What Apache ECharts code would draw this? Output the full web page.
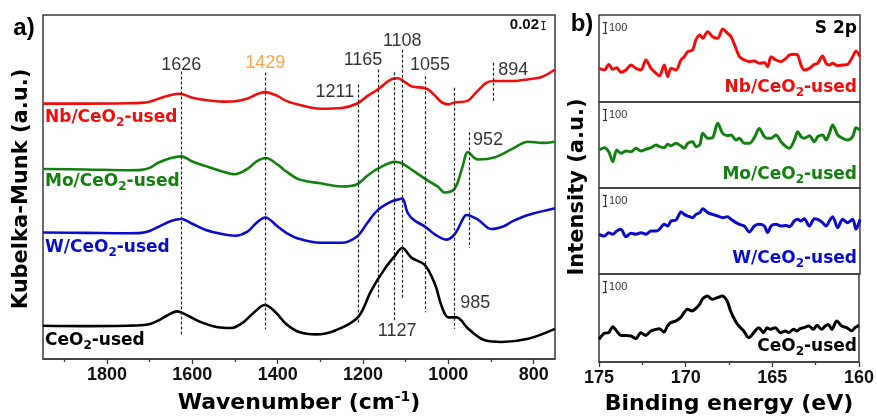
<!DOCTYPE html>
<html>
<head>
<meta charset="utf-8">
<script src="https://cdn.jsdelivr.net/npm/echarts@6/dist/echarts.min.js"></script>
<style>html,body{margin:0;padding:0;background:#fff}#c{width:877px;height:419px}</style>
</head>
<body>
<div id="c"></div>
<script>
// ---------- Panel a: DRIFTS spectra (wavenumber, Kubelka-Munk, offset as displayed) ----------
const nbDrifts = [[1950,0.644],[1850,0.644],[1750,0.645],[1720,0.646],[1700,0.649],[1680,0.656],[1650,0.666],[1630,0.669],[1600,0.659],[1570,0.653],[1530,0.649],[1500,0.65],[1470,0.657],[1450,0.667],[1430,0.673],[1400,0.663],[1380,0.651],[1350,0.641],[1300,0.631],[1250,0.633],[1212,0.645],[1190,0.663],[1165,0.68],[1130,0.707],[1118,0.708],[1108,0.703],[1095,0.693],[1085,0.687],[1055,0.683],[1045,0.678],[1030,0.663],[1015,0.647],[1000,0.642],[985,0.647],[955,0.651],[935,0.672],[910,0.697],[890,0.701],[850,0.701],[815,0.705],[780,0.712],[750,0.73]];
const moDrifts = [[1950,0.479],[1850,0.478],[1750,0.476],[1720,0.477],[1700,0.482],[1680,0.495],[1650,0.507],[1626,0.511],[1600,0.498],[1570,0.487],[1530,0.473],[1500,0.466],[1470,0.48],[1450,0.498],[1428,0.507],[1400,0.49],[1380,0.473],[1350,0.453],[1300,0.443],[1250,0.435],[1215,0.44],[1190,0.462],[1165,0.48],[1125,0.497],[1108,0.493],[1080,0.473],[1050,0.451],[1025,0.435],[1008,0.42],[985,0.43],[968,0.48],[954,0.522],[940,0.508],[930,0.503],[890,0.509],[850,0.53],[813,0.548],[780,0.545],[750,0.548]];
const wDrifts = [[1950,0.319],[1850,0.318],[1750,0.317],[1720,0.318],[1700,0.323],[1680,0.333],[1650,0.348],[1626,0.353],[1600,0.341],[1570,0.326],[1530,0.315],[1500,0.311],[1470,0.322],[1450,0.343],[1429,0.357],[1400,0.334],[1380,0.318],[1350,0.303],[1300,0.293],[1250,0.293],[1214,0.309],[1190,0.343],[1165,0.376],[1134,0.397],[1115,0.403],[1108,0.405],[1095,0.368],[1080,0.35],[1055,0.334],[1030,0.313],[1005,0.301],[985,0.315],[965,0.355],[958,0.363],[930,0.351],[900,0.328],[870,0.335],[850,0.347],[813,0.363],[750,0.38]];
const ceDrifts = [[1950,0.084],[1850,0.083],[1750,0.084],[1720,0.085],[1700,0.088],[1680,0.097],[1660,0.109],[1636,0.12],[1610,0.109],[1580,0.093],[1540,0.08],[1510,0.078],[1480,0.093],[1455,0.118],[1430,0.136],[1405,0.118],[1380,0.088],[1350,0.068],[1310,0.062],[1265,0.072],[1212,0.105],[1181,0.172],[1150,0.226],[1126,0.259],[1108,0.28],[1086,0.255],[1055,0.237],[1031,0.188],[1016,0.134],[1000,0.105],[981,0.105],[953,0.076],[914,0.047],[875,0.043],[813,0.051],[750,0.076]];

const peakWavenumbers = [1626, 1429, 1211, 1165, 1127, 1108, 1055, 985, 952, 894];
const peakLabels = ['1626', '1429', '1211', '1165', '1127', '1108', '1055', '985', '952', '894'];
// vertical extent of each dashed guide (K-M units)
const peakLineTop = [0.725, 0.7225, 0.6925, 0.73, 0.723, 0.78, 0.713, 0.684, 0.572, 0.747];
const peakLineBottom = [0.06, 0.075, 0.088, 0.151, 0.097, 0.151, 0.118, 0.076, 0.28, 0.647];
// where each peak number is written (wavenumber, K-M)
const peakLabelAt = [[1626,0.7425],[1429,0.7475],[1266,0.672],[1200,0.753],[1120,0.07],[1108,0.803],[1043,0.741],[937,0.14],[907,0.5525],[848,0.728]];
const kmScaleBar = 0.02;

const aTicksMajor = [800, 1000, 1200, 1400, 1600, 1800];
const aTicksMinor = [900, 1100, 1300, 1500, 1700, 1900];

// ---------- Panel b: XPS S 2p ----------
const bEnergy = [175.0,174.69,174.44,174.21,173.98,173.74,173.45,173.16,172.87,172.59,172.30,172.01,171.72,171.53,171.25,171.05,170.86,170.57,170.29,170.10,169.90,169.62,169.43,169.20,169.04,168.75,168.47,168.18,167.89,167.61,167.41,167.13,166.93,166.65,166.36,166.07,165.79,165.50,165.31,165.11,164.83,164.54,164.25,164.06,163.77,163.58,163.39,163.20,162.91,162.62,162.43,162.15,161.95,161.76,161.57,161.28,161.00,160.71,160.42,160.23,160.0];
const nbS2p = [306,291,342,297,312,270,291,336,306,291,382,306,261,236,336,230,306,291,382,412,458,473,564,609,579,639,594,579,664,624,594,488,412,382,367,373,352,358,321,412,382,367,397,427,433,427,336,291,306,342,352,418,352,336,352,330,336,342,412,464,412];
const moS2p = [345,367,330,239,345,315,336,330,361,336,352,367,391,376,367,397,385,406,382,361,406,421,376,397,497,452,458,588,497,476,482,436,452,406,406,458,542,467,452,452,482,421,376,361,436,512,467,452,476,421,467,482,436,497,573,482,452,436,467,548,527];
const wS2p = [361,345,376,361,391,406,339,370,361,376,361,391,391,406,452,436,482,491,564,542,527,512,542,558,594,558,542,527,512,521,497,467,452,436,382,436,452,436,376,436,452,436,442,430,482,497,482,503,436,503,497,467,436,482,521,421,497,467,497,406,497];
const ceS2p = [206,261,267,321,282,242,242,236,212,267,242,282,297,303,273,327,358,373,403,448,479,464,485,524,570,600,570,585,600,555,464,373,327,282,221,267,312,267,312,297,312,267,282,267,297,282,303,312,327,297,333,297,327,342,297,373,327,312,282,312,333];
const countsScaleBar = 100;
const bTicks = [175, 170, 165, 160];

const sampleNames = ['Nb/CeO2-used', 'Mo/CeO2-used', 'W/CeO2-used', 'CeO2-used'];
const colors = ['#f20d0d', '#12800f', '#0b0bcc', '#000000'];

// ---------- layout ----------
const A = {left: 43, top: 15, width: 512, height: 347};
const bTops = [15, 102, 188, 274];
const bHeights = [87, 86, 86, 88];
const bLeft = 599, bWidth = 261;
const pxPerCount = 11 / 100; // 100 counts = 11 px

const frame = '#3a3a3a';
const tickLabel = {fontFamily: 'Liberation Sans', fontWeight: 'bold', fontSize: 18, color: '#111', margin: 7, formatter: v => String(v)};

const grids = [Object.assign({show: true, borderColor: frame, borderWidth: 1.5, backgroundColor: 'transparent'}, A)];
bTops.forEach((t, i) => grids.push({left: bLeft, top: t, width: bWidth, height: bHeights[i], show: true, borderColor: frame, borderWidth: 1.5}));

const xAxes = [
  {gridIndex: 0, type: 'value', min: 750, max: 1950, inverse: true, position: 'bottom',
   axisLine: {show: true, lineStyle: {color: frame, width: 1.5}},
   axisTick: {show: true, customValues: aTicksMajor, length: 5, lineStyle: {color: frame, width: 1.3}},
   axisLabel: Object.assign({customValues: aTicksMajor}, tickLabel),
   splitLine: {show: false},
   name: '{m|Wavenumber (cm}{s|-1}{m|)}', nameLocation: 'middle', nameGap: 31,
   nameTextStyle: {rich: {
     m: {fontFamily: 'DejaVu Sans', fontWeight: 'bold', fontSize: 22, color: '#000'},
     s: {fontFamily: 'DejaVu Sans', fontWeight: 'bold', fontSize: 14, color: '#000', padding: [0, 0, 12, 0]}}}},
  {gridIndex: 0, type: 'value', min: 750, max: 1950, inverse: true, position: 'bottom',
   axisLine: {show: false},
   axisTick: {show: true, customValues: aTicksMinor, length: 3, lineStyle: {color: frame, width: 1.3}},
   axisLabel: {show: false}, splitLine: {show: false}}
];
const yAxes = [{gridIndex: 0, type: 'value', min: 0, max: A.height / 400, show: false}];
bTops.forEach((t, i) => {
  const last = i === bTops.length - 1;
  xAxes.push({gridIndex: i + 1, type: 'value', min: 160, max: 175, interval: 5, inverse: true,
    axisLine: {show: last, lineStyle: {color: frame, width: 1.5}},
    axisTick: {show: last, length: 5, lineStyle: {color: frame, width: 1.3}},
    minorTick: {show: last, splitNumber: 2, length: 3, lineStyle: {color: frame, width: 1.3}},
    axisLabel: Object.assign({show: last, customValues: bTicks}, tickLabel),
    splitLine: {show: false},
    name: last ? 'Binding energy (eV)' : '', nameLocation: 'middle', nameGap: 31,
    nameTextStyle: {fontFamily: 'DejaVu Sans', fontWeight: 'bold', fontSize: 22, color: '#000'}});
  yAxes.push({gridIndex: i + 1, type: 'value', min: 0, max: bHeights[i] / pxPerCount, show: false});
});

const series = [];
[nbDrifts, moDrifts, wDrifts, ceDrifts].forEach((d, i) => series.push({
  type: 'line', xAxisIndex: 0, yAxisIndex: 0, data: d, showSymbol: false, smooth: 0.35,
  lineStyle: {color: colors[i], width: 2.6}, silent: true, z: 3}));

// dashed peak guides + K-M scale bar
const aBarW = 777, aBarTop = 0.8525, serif = 5;
series.push({
  type: 'line', xAxisIndex: 0, yAxisIndex: 0, data: [], silent: true,
  markLine: {symbol: 'none', silent: true, label: {show: false}, animation: false,
    lineStyle: {type: [3, 2], color: '#222', width: 1.2},
    data: peakWavenumbers.map((w, i) => [{coord: [w, peakLineTop[i]]}, {coord: [w, peakLineBottom[i]]}]).concat([
      [{coord: [aBarW, aBarTop], lineStyle: {type: 'solid', width: 1.2, color: '#222'}}, {coord: [aBarW, aBarTop - kmScaleBar]}],
      [{coord: [aBarW - serif, aBarTop], lineStyle: {type: 'solid', width: 1.2, color: '#222'}}, {coord: [aBarW + serif, aBarTop]}],
      [{coord: [aBarW - serif, aBarTop - kmScaleBar], lineStyle: {type: 'solid', width: 1.2, color: '#222'}}, {coord: [aBarW + serif, aBarTop - kmScaleBar]}]
    ])}
});
series.push({
  type: 'scatter', xAxisIndex: 0, yAxisIndex: 0, symbolSize: 0, silent: true,
  data: peakLabelAt.map((p, i) => ({value: p, name: peakLabels[i],
    label: {color: peakLabels[i] === '1429' ? '#ff8c1a' : '#000'}})),
  label: {show: true, position: [0, 0], align: 'center', verticalAlign: 'middle', formatter: '{b}',
    fontFamily: 'Liberation Sans', fontSize: 18}
});

[nbS2p, moS2p, wS2p, ceS2p].forEach((d, i) => {
  const top = bHeights[i] / pxPerCount;
  const bt = top - 66, bb = bt - countsScaleBar, e0 = 174.66, s = 0.12;
  const solid = {type: 'solid', color: '#333', width: 1.2};
  series.push({
    type: 'line', xAxisIndex: i + 2, yAxisIndex: i + 1, data: bEnergy.map((e, k) => [e, d[k]]),
    showSymbol: false, smooth: 0.3, lineStyle: {color: colors[i], width: 3}, silent: true,
    markLine: {symbol: 'none', silent: true, label: {show: false}, animation: false, lineStyle: solid,
      data: [
        [{coord: [e0, bt]}, {coord: [e0, bb]}],
        [{coord: [e0 + s, bt]}, {coord: [e0 - s, bt]}],
        [{coord: [e0 + s, bb]}, {coord: [e0 - s, bb]}]
      ]}
  });
});

// ---------- free text ----------
const boldFont = 'DejaVu Sans';
function sampleText(name, color, x, y, align) {
  const parts = name.split('2');
  return {type: 'text', x: x, y: y, silent: true, z: 10,
    style: {text: '{m|' + parts[0] + '}{s|2}{m|' + parts[1] + '}', align: align, verticalAlign: 'middle', fill: color,
      rich: {m: {fontFamily: boldFont, fontWeight: 'bold', fontSize: 17, fill: color},
             s: {fontFamily: boldFont, fontWeight: 'bold', fontSize: 12, fill: color, padding: [9, 0, 0, 0]}}}};
}
const graphic = [
  {type: 'text', x: 24, y: 28, style: {text: 'a)', align: 'center', verticalAlign: 'middle', font: 'bold 24px "Liberation Sans"', fill: '#000'}},
  {type: 'text', x: 582, y: 24, style: {text: 'b)', align: 'center', verticalAlign: 'middle', font: 'bold 24px "Liberation Sans"', fill: '#000'}},
  {type: 'text', x: 22, y: 189, rotation: Math.PI / 2, style: {text: 'Kubelka-Munk (a.u.)', align: 'center', verticalAlign: 'middle', font: 'bold 21px "DejaVu Sans"', fill: '#000'}},
  {type: 'text', x: 578, y: 187, rotation: Math.PI / 2, style: {text: 'Intensity (a.u.)', align: 'center', verticalAlign: 'middle', font: 'bold 21px "DejaVu Sans"', fill: '#000'}},
  {type: 'text', x: 539, y: 25, style: {text: '0.02', align: 'right', verticalAlign: 'middle', font: 'bold 15px "Liberation Sans"', fill: '#111'}},
  {type: 'text', x: 857, y: 29, style: {text: 'S 2p', align: 'right', verticalAlign: 'middle', font: 'bold 17px "DejaVu Sans"', fill: '#000'}},
  sampleText(sampleNames[0], colors[0], 45, 118, 'left'),
  sampleText(sampleNames[1], colors[1], 45, 182, 'left'),
  sampleText(sampleNames[2], colors[2], 45, 248, 'left'),
  sampleText(sampleNames[3], colors[3], 45, 341, 'left'),
  sampleText(sampleNames[0], colors[0], 857, 88, 'right'),
  sampleText(sampleNames[1], colors[1], 857, 175, 'right'),
  sampleText(sampleNames[2], colors[2], 857, 259, 'right'),
  sampleText(sampleNames[3], colors[3], 857, 347, 'right')
];
bTops.forEach(t => graphic.push({type: 'text', x: 609, y: t + 13, style: {text: '100', align: 'left', verticalAlign: 'middle', font: '11px "Liberation Sans"', fill: '#333'}}));

const chart = echarts.init(document.getElementById('c'), null, {renderer: 'canvas'});
chart.setOption({animation: false, backgroundColor: '#fff', grid: grids, xAxis: xAxes, yAxis: yAxes, series: series, graphic: graphic});
</script>
</body>
</html>
